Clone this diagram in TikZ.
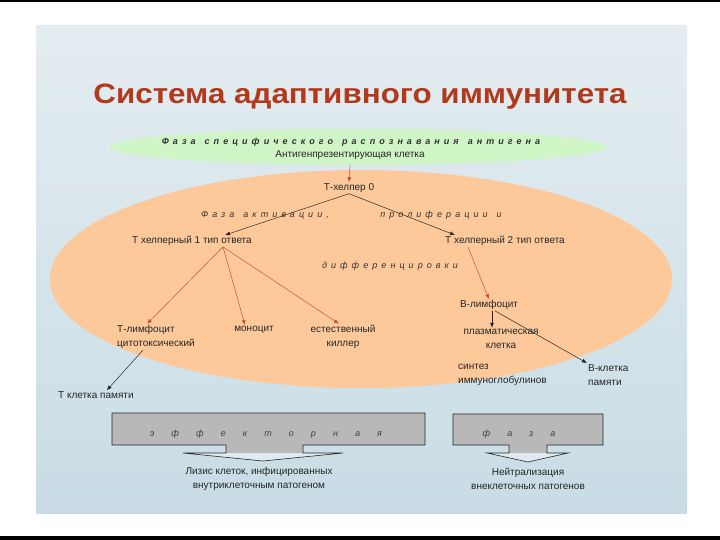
\documentclass[tikz,border=0pt]{standalone}
\usepackage{fontspec}
\usepackage{graphicx}
\setmainfont{Liberation Sans}
\newfontfamily\sparsefont[LetterSpace=45]{Liberation Sans}
\newfontfamily\widefont[LetterSpace=190]{Liberation Sans}
\usetikzlibrary{arrows.meta,calc}
\definecolor{titlered}{HTML}{B2391B}
\definecolor{peach}{HTML}{FDC99B}
\definecolor{mint}{HTML}{CFF5C6}
\definecolor{arrowred}{HTML}{C4532C}
\definecolor{boxgray}{HTML}{B8B8B8}
\definecolor{paneltop}{HTML}{E4EDF1}
\definecolor{panelbot}{HTML}{C8DCE5}

\begin{document}
\begin{tikzpicture}[x=1pt,y=-1pt,
  lbl/.style={font=\fontsize{10}{14.5}\selectfont, text=black!85, inner sep=1pt},
  phase/.style={font=\fontsize{9}{10}\sparsefont\itshape, text=black!80, inner sep=1pt},
  redarr/.style={draw=arrowred, line width=0.5pt, -{Latex[length=5pt,width=4pt]}},
  blkarr/.style={draw=black!85, line width=0.5pt, -{Latex[length=5pt,width=4pt]}},
  effbox/.style={fill=boxgray}]
  \useasboundingbox (0,0) rectangle (720,540);
  \fill[white] (0,0) rectangle (720,540);
  \fill[black] (0,0) rectangle (720,2);
  \fill[black] (0,536) rectangle (720,540);
  \shade[top color=paneltop, bottom color=panelbot] (36,26) rectangle (687,513);
  % title
  \node[font=\fontsize{28}{30}\selectfont\bfseries, text=titlered] (title) at (360,97) {\scalebox{1.12}[1]{Система адаптивного иммунитета}};
  % two phases as ellipses
  \fill[peach] (361,279) ellipse [x radius=311pt, y radius=109pt];
  \fill[mint] (358,147) ellipse [x radius=248pt, y radius=18pt];
  \node[phase, font=\fontsize{9}{10}\sparsefont\bfseries\itshape] (recog) at (351,142) {Фаза\quad специфического\quad распознавания\quad антигена};
  \node[lbl] (apc) at (350,155) {Антигенпрезентирующая клетка};
  \coordinate (recogbot) at (350,165);
  \node[lbl] (th0) at (349,188) {Т-хелпер 0};
  \node[phase] (activ) at (265,215) {Фаза\quad активации,};
  \node[phase] (prolif) at (441,215) {пролиферации\quad и};
  \node[lbl] (th1) at (192,241) {Т хелперный 1 тип ответа};
  \node[lbl] (th2) at (505,241) {Т хелперный 2 тип ответа};
  \node[phase] (diff) at (390,266) {дифференцировки};
  \node[lbl, align=left] (ctl) at (156,337) {Т-лимфоцит\\цитотоксический};
  \node[lbl] (mono) at (254,330) {моноцит};
  \node[lbl, align=center] (nk) at (343,337) {естественный\\киллер};
  \node[lbl] (bcell) at (489,305) {В-лимфоцит};
  \node[lbl, align=center] (plasma) at (501,339) {плазматическая\\клетка};
  \node[lbl, align=left, anchor=west] (igsyn) at (457,375) {синтез\\иммуноглобулинов};
  \node[lbl, align=left, anchor=west] (bmem) at (587,375) {В-клетка\\памяти};
  \node[lbl, anchor=west] (tmem) at (57,395) {Т клетка памяти};
  % arrows
  \coordinate (th1top) at ([xshift=33pt]th1.north);
  \coordinate (th2top) at ([xshift=-50pt]th2.north);
  \draw[redarr] (recogbot) -- (th0.north);
  \draw[blkarr] (th0.south) -- (th1top);
  \draw[blkarr] (th0.south) -- (th2top);
  \draw[redarr] ([xshift=31pt]th1.south) -- ([xshift=-9pt]ctl.north);
  \draw[redarr] ([xshift=31pt]th1.south) -- ([xshift=-9pt]mono.north);
  \draw[redarr] ([xshift=31pt]th1.south) -- ([xshift=-4pt]nk.north);
  \draw[redarr] ([xshift=-37pt]th2.south) -- (bcell.north);
  \draw[blkarr] ([xshift=3pt]bcell.south) -- ([xshift=-9pt]plasma.north);
  \draw[blkarr] ([xshift=6pt]bcell.south) -- (bmem.north west);
  \draw[blkarr] ([xshift=-13pt]ctl.south) -- ([xshift=-28pt]tmem.north east);
  % effector phase boxes
  \fill[effbox] (112,413) rectangle (425,445) (226,444) rectangle (303,453);
  \fill[white, opacity=0.4] (183,453) -- (343,453) -- (263,461) -- cycle;
  \draw[black!85, line width=0.6pt] (226,445) -- (112,445) -- (112,413) -- (425,413) -- (425,445) -- (303,445) -- (303,453) -- (343,453) -- (263,461) -- (183,453) -- (226,453) -- cycle;
  \fill[effbox] (453,414) rectangle (603,445) (509,444) rectangle (547,453);
  \fill[white, opacity=0.4] (487,453) -- (568,453) -- (528,462) -- cycle;
  \draw[black!85, line width=0.6pt] (509,445) -- (453,445) -- (453,414) -- (603,414) -- (603,445) -- (547,445) -- (547,453) -- (568,453) -- (528,462) -- (487,453) -- (509,453) -- cycle;
  \node[font=\fontsize{9}{10}\widefont\itshape, text=black!75] (efftxt) at (266,434) {эффекторная};
  \node[font=\fontsize{9}{10}\widefont\itshape, text=black!75] (phtxt) at (519,434) {фаза};
  \node[lbl, align=center] (lysis) at (259,479) {Лизис клеток, инфицированных\\внутриклеточным патогеном};
  \node[lbl, align=center] (neutr) at (528,479) {Нейтрализация\\внеклеточных патогенов};
\end{tikzpicture}
\end{document}
